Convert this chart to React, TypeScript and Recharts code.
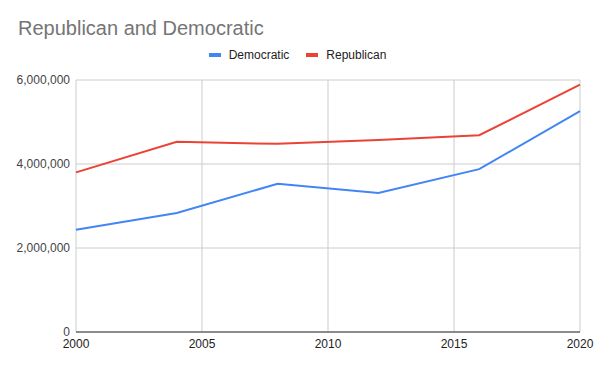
import React from "react";
import { CartesianGrid, Line, LineChart, XAxis, YAxis } from "recharts";

const years = [2000, 2004, 2008, 2012, 2016, 2020];
const democratic = [2433746, 2832704, 3528633, 3308124, 3877868, 5259126];
const republican = [3799639, 4526917, 4479328, 4569843, 4685047, 5890347];
const xTicks = [2000, 2005, 2010, 2015, 2020];
const yTicks = [0, 2000000, 4000000, 6000000];

const data = years.map((year, i) => ({
  year,
  Democratic: democratic[i],
  Republican: republican[i],
}));

const FONT = "Arial, 'Liberation Sans', sans-serif";
const colors = { Democratic: "#4285f4", Republican: "#ea4335" };

function ChartLegend() {
  return (
    <div
      style={{
        position: "absolute",
        left: 0,
        top: 47,
        width: 595,
        display: "flex",
        justifyContent: "center",
        fontFamily: FONT,
        fontSize: 12,
        lineHeight: "16px",
        color: "#222",
      }}
    >
      {(["Democratic", "Republican"] as const).map((name, i) => (
        <div key={name} style={{ display: "flex", alignItems: "center", marginLeft: i ? 17 : 0 }}>
          <span style={{ display: "inline-block", width: 12, height: 4, background: colors[name], marginRight: 8 }} />
          <span>{name}</span>
        </div>
      ))}
    </div>
  );
}

export default function App() {
  return (
    <div style={{ position: "absolute", left: 0, top: 0, width: 595, height: 365, background: "#fff" }}>
      <div
        style={{
          position: "absolute",
          left: 18,
          top: 18,
          fontFamily: FONT,
          fontSize: 20,
          lineHeight: "20px",
          color: "#757575",
        }}
      >
        Republican and Democratic
      </div>
      <ChartLegend />
      <LineChart width={595} height={365} data={data} margin={{ top: 80, right: 15, bottom: 0, left: 0 }}>
        <CartesianGrid stroke="#cccccc" />
        <XAxis
          dataKey="year"
          type="number"
          domain={[2000, 2020]}
          ticks={xTicks}
          interval={0}
          height={33}
          tickSize={0}
          tickMargin={7}
          stroke="#333"
          tick={{ fontSize: 12, fill: "#222", fontFamily: FONT }}
        />
        <YAxis
          type="number"
          domain={[0, 6000000]}
          ticks={yTicks}
          width={76}
          axisLine={false}
          tickLine={false}
          tickSize={0}
          tickMargin={6}
          tickFormatter={(v: number) => v.toLocaleString("en-US")}
          tick={{ fontSize: 12, fill: "#444", fontFamily: FONT }}
        />
        <Line type="linear" dataKey="Democratic" stroke={colors.Democratic} strokeWidth={2} dot={false} isAnimationActive={false} />
        <Line type="linear" dataKey="Republican" stroke={colors.Republican} strokeWidth={2} dot={false} isAnimationActive={false} />
      </LineChart>
    </div>
  );
}
